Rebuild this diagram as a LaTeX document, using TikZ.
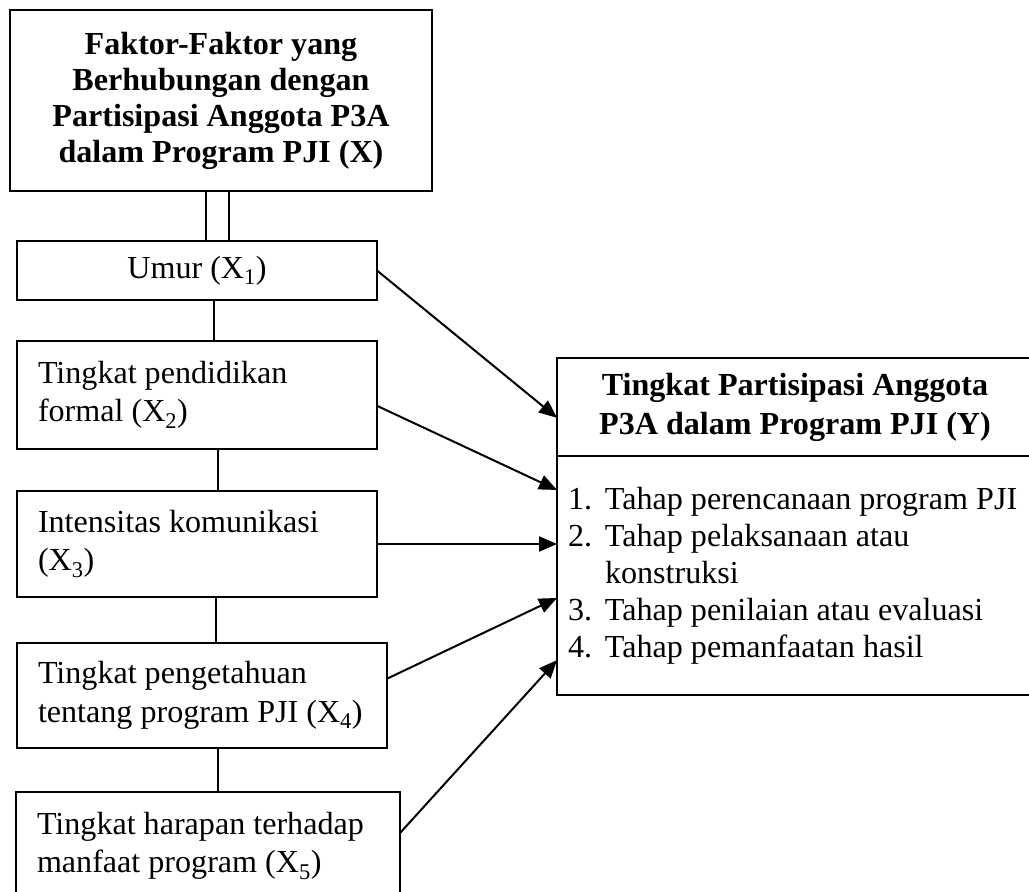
\documentclass[tikz,border=0pt]{standalone}
\usepackage{fontspec}
\setmainfont{Liberation Serif}
\usetikzlibrary{arrows.meta,calc}

\newcommand{\varfont}{\fontsize{32.1}{38.5}\selectfont}
\newcommand{\headfont}{\fontsize{32.1}{36}\selectfont\bfseries}
\newcommand{\num}[1]{\makebox[37pt][l]{#1}}

\tikzset{
  box/.style={draw, line width=1.8pt, anchor=north west, inner sep=0pt, outer sep=0pt},
  varbox/.style={box, align=flush left, font=\varfont, inner xsep=21pt},
  headbox/.style={box, align=flush center, font=\headfont},
  link/.style={line width=1.8pt},
  toY/.style={line width=2pt, -{Triangle[length=18pt,width=15pt]}}
}

\begin{document}
\begin{tikzpicture}[x=1pt,y=-1pt]
  \useasboundingbox (0,0) rectangle (1029,892);
  \clip (0,0) rectangle (1029,892);

  % variabel X
  \node[headbox, minimum width=422pt, minimum height=181pt] (faktor) at (10,10)
    {Faktor-Faktor yang\\Berhubungan dengan\\Partisipasi Anggota P3A\\dalam Program PJI (X)};
  \node[box, font=\varfont, minimum width=360pt, minimum height=59pt] (umur) at (17,241)
    {Umur (X\textsubscript{1})};
  \node[varbox, text width=318pt, minimum height=108pt] (pend) at (17,341)
    {Tingkat pendidikan\\formal (X\textsubscript{2})};
  \node[varbox, text width=318pt, minimum height=106pt] (intens) at (17,491)
    {Intensitas komunikasi\\(X\textsubscript{3})};
  \node[varbox, text width=328pt, minimum height=105pt] (tahu) at (17,643)
    {Tingkat pengetahuan\\tentang program PJI (X\textsubscript{4})};
  \node[varbox, text width=342pt, minimum height=108pt] (harap) at (16,792)
    {Tingkat harapan terhadap\\manfaat program (X\textsubscript{5})};

  % variabel Y
  \node[headbox, font=\fontsize{32.1}{39}\selectfont\bfseries, minimum width=476pt, minimum height=98pt] (ytitle) at (557,358)
    {Tingkat Partisipasi Anggota\\P3A dalam Program PJI (Y)};
  \node[box, align=flush left, font=\fontsize{32.1}{37}\selectfont, inner xsep=11pt, text width=470pt, minimum height=239pt] (ylist) at (557,456)
    {\num{1.}Tahap perencanaan program PJI\\
     \num{2.}Tahap pelaksanaan atau\\
     \num{}konstruksi\\
     \num{3.}Tahap penilaian atau evaluasi\\
     \num{4.}Tahap pemanfaatan hasil};

  % garis penghubung
  \draw[link] ([xshift=-15pt]faktor.south) -- ([xshift=-15pt]faktor.south |- umur.north);
  \draw[link] ([xshift=8pt]faktor.south) -- ([xshift=8pt]faktor.south |- umur.north);
  \foreach \a/\b/\s in {umur/pend/17, pend/intens/21, intens/tahu/19, tahu/harap/16}
    \draw[link] ([xshift=\s pt]\a.south) -- ([xshift=\s pt]\a.south |- \b.north);

  % panah X -> Y
  \draw[toY] (umur.east) -- ($(ytitle.north west)!0.61!(ytitle.south west)$);
  \draw[toY] ($(pend.north east)!0.6!(pend.south east)$) -- ($(ylist.north west)!0.142!(ylist.south west)$);
  \draw[toY] (intens.east) -- (intens.east -| ylist.west);
  \draw[toY] ($(tahu.north east)!0.34!(tahu.south east)$) -- ($(ylist.north west)!0.594!(ylist.south west)$);
  \draw[toY] ($(harap.north east)!0.38!(harap.south east)$) -- ($(ylist.north west)!0.854!(ylist.south west)$);
\end{tikzpicture}
\end{document}
